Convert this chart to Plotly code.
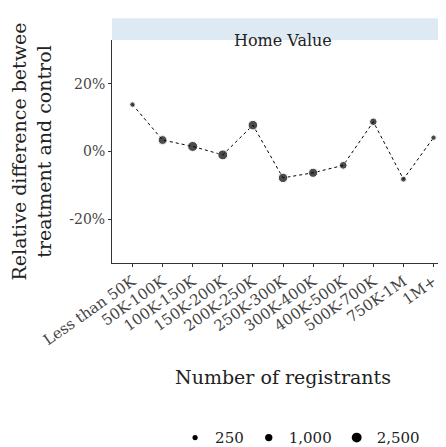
import plotly.graph_objects as go

categories = ["Less than 50K", "50K-100K", "100K-150K", "150K-200K", "200K-250K",
              "250K-300K", "300K-400K", "400K-500K", "500K-700K", "750K-1M", "1M+"]
rel_diff = [13.9, 3.4, 1.5, -1.0, 7.8, -7.8, -6.3, -4.1, 8.8, -8.2, 4.1]
registrants = [300, 1800, 2600, 2500, 2300, 2200, 2000, 1200, 1100, 400, 300]
legend_sizes = [250, 1000, 2500]

def msize(n):
    return 3 + 7 * (n / 2600) ** 0.5

font = "DejaVu Serif"
fig = go.Figure()
fig.add_trace(go.Scatter(
    x=categories, y=rel_diff, mode="lines+markers",
    line=dict(color="black", dash="dot", width=1),
    marker=dict(color="black", size=[msize(n) for n in registrants]),
    showlegend=False))
for n in legend_sizes:
    fig.add_trace(go.Scatter(
        x=[None], y=[None], mode="markers", name=f"{n:,}",
        marker=dict(color="black", size=msize(n))))

plot_h = 225
fig.add_shape(type="rect", xref="paper", yref="paper", x0=0, x1=1, y0=1, y1=1 + 22 / plot_h,
              fillcolor="#deeaf3", line_width=0, layer="below")
fig.add_annotation(text="Home Value", xref="paper", yref="paper", x=0.5, y=1 + 11 / plot_h,
                   showarrow=False, font=dict(size=16, color="#222"))

fig.update_layout(
    width=446, height=447, plot_bgcolor="white", paper_bgcolor="white",
    font=dict(family=font, size=14, color="#444"),
    margin=dict(l=104, r=0, t=32, b=190),
    xaxis=dict(tickangle=-35, showline=True, linecolor="#333", ticks="outside",
               ticklen=3, tickcolor="#333", tickfont=dict(size=15),
               title=dict(text="Number of registrants", standoff=22,
                          font=dict(size=19, color="#222"))),
    yaxis=dict(range=[-33, 33], tickvals=[-20, 0, 20], ticktext=["-20%", "0%", "20%"],
               showline=True, linecolor="#333", ticks="outside", ticklen=3,
               tickcolor="#333", showgrid=False, zeroline=False, tickfont=dict(size=14),
               title=dict(text="Relative difference betwee<br>treatment and control",
                          font=dict(size=19, color="#222"))),
    legend=dict(orientation="h", x=0.55, xanchor="center", y=-0.71, yanchor="top",
                font=dict(size=15, color="#222")),
)
fig.write_html("out.html")
